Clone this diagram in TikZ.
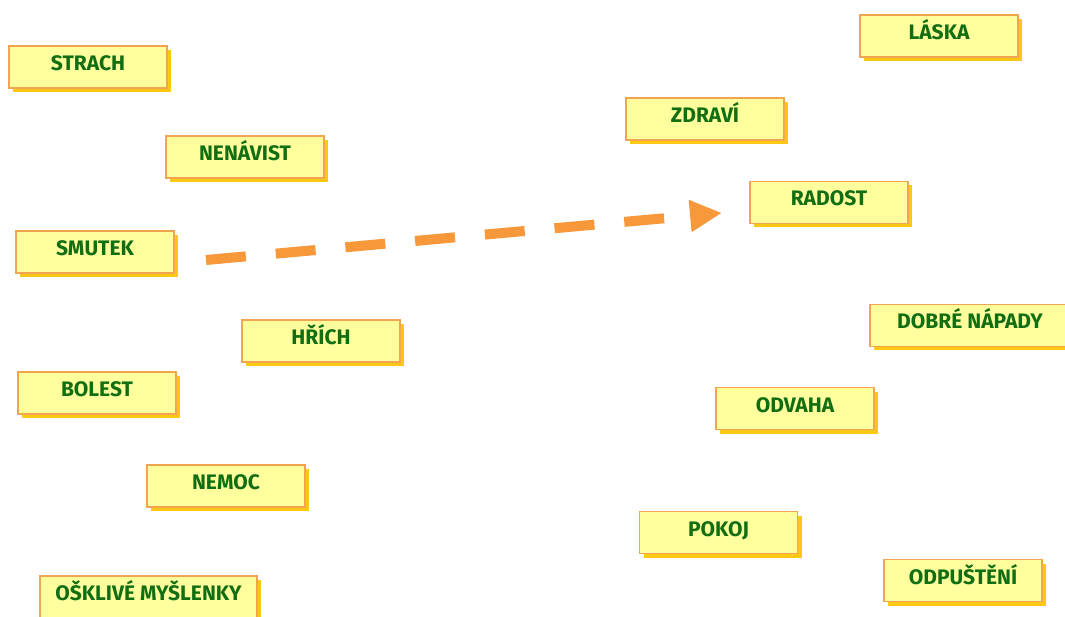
\documentclass[tikz,border=0pt]{standalone}
\usepackage{fontspec}
\setmainfont{Fira Sans}
\usetikzlibrary{arrows.meta,shadows}
\definecolor{boxfill}{RGB}{255,255,158}
\definecolor{boxline}{RGB}{242,165,80}
\definecolor{boxshadow}{RGB}{255,200,20}
\definecolor{txtgreen}{RGB}{18,110,18}
\definecolor{arrowc}{RGB}{247,152,58}
\tikzset{
  word/.style={draw=boxline, line width=1.2pt, fill=boxfill,
    general shadow={fill=boxshadow, shadow xshift=4pt, shadow yshift=-4pt},
    minimum width=158pt, inner xsep=0pt, inner ysep=0pt,
    text height=24.5pt, text depth=17.5pt,
    font=\fontsize{21}{21}\selectfont\bfseries, text=txtgreen},
  flow/.style={draw=arrowc, line width=10pt, dash pattern=on 40pt off 30pt,
    -{Triangle[length=32pt,width=30pt]}}
}
\begin{document}
\begin{tikzpicture}[x=1pt,y=-1pt]
\useasboundingbox (0,0) rectangle (1065,617);
\clip (0,0) rectangle (1065,617);
\fill[white] (0,0) rectangle (1065,617);
\node[word] (strach) at (88,67) {STRACH};
\node[word] (nenavist) at (245,157) {NENÁVIST};
\node[word] (smutek) at (95,252) {SMUTEK};
\node[word] (hrich) at (321,341) {HŘÍCH};
\node[word] (bolest) at (97,393) {BOLEST};
\node[word] (nemoc) at (226,486) {NEMOC};
\node[word, minimum width=217pt] (myslenky) at (148.5,597) {OŠKLIVÉ MYŠLENKY};
\node[word] (laska) at (939,36) {LÁSKA};
\node[word] (zdravi) at (705,119) {ZDRAVÍ};
\node[word] (radost) at (829,202.5) {RADOST};
\node[word, minimum width=200pt] (napady) at (970,325.5) {DOBRÉ NÁPADY};
\node[word] (odvaha) at (795,408.5) {ODVAHA};
\node[word] (pokoj) at (718.5,532.5) {POKOJ};
\node[word] (odpusteni) at (963,580.5) {ODPUŠTĚNÍ};
\coordinate (from) at (206,260);
\coordinate (to) at (722,213);
\draw[flow] (from) -- (to);
\end{tikzpicture}
\end{document}
